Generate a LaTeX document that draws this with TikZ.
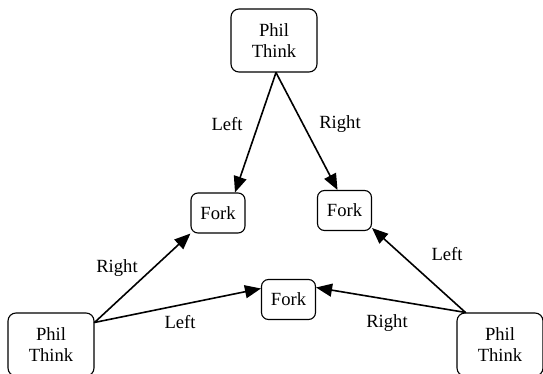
\documentclass[tikz,border=0pt]{standalone}
\usepackage{fontspec}
\setmainfont{Liberation Serif}
\usetikzlibrary{arrows.meta, positioning}
\tikzset{x=1pt, y=-1pt, >={Triangle[length=16pt,width=13pt]}}

\begin{document}
\begin{tikzpicture}
% Style
[
    line cap=round, font=\fontsize{18.6}{21}\selectfont,
    phil/.style={draw, line width=1.1pt, rounded corners=8pt, align=center,
                 minimum width=86pt, minimum height=63pt, inner sep=0pt},
    fork/.style={draw, line width=1.1pt, rounded corners=7pt,
                 minimum width=54pt, minimum height=40pt, inner sep=0pt},
    link/.style={->, line width=1.6pt},
    lbl/.style={inner sep=0pt}
]

%=================================== Start ===================================
{
    \useasboundingbox (0,0) rectangle (543,374);

    % Define: Philosophers
    \node[phil] (phil top)   at (274,40.5)  {Phil\\Think};
    \node[phil] (phil left)  at (51,344.5)  {Phil\\Think};
    \node[phil] (phil right) at (500,344.5) {Phil\\Think};

    % Define: Forks
    \node[fork] (fork left)   at (218,213)     {Fork};
    \node[fork] (fork right)  at (344.5,210.5) {Fork};
    \node[fork] (fork bottom) at (288.5,299.5) {Fork};

    % Draw: Links
    \draw[link] ([xshift=2pt]phil top.south) -- ([xshift=17pt]fork left.north);
    \draw[link] ([xshift=2pt]phil top.south) -- ([xshift=-7pt]fork right.north);
    \draw[link] ([yshift=-10pt]phil left.north east) -- (fork left.south west);
    \draw[link] ([yshift=-10pt]phil left.north east) -- ([yshift=11pt]fork bottom.west);
    \draw[link] ([xshift=9pt]phil right.north west) -- ([yshift=3pt]fork right.south east);
    \draw[link] ([xshift=9pt]phil right.north west) -- ([yshift=12pt]fork bottom.east);

    % Draw: Labels
    \node[lbl] (top left)     at (227,124) {Left};
    \node[lbl] (top right)    at (340,124) {Right};
    \node[lbl] (left right)   at (117,268) {Right};
    \node[lbl] (left left)    at (180,322) {Left};
    \node[lbl] (right left)   at (447,254) {Left};
    \node[lbl] (right right)  at (387,323) {Right};
}
%==================================== END ====================================

\end{tikzpicture}
\end{document}
